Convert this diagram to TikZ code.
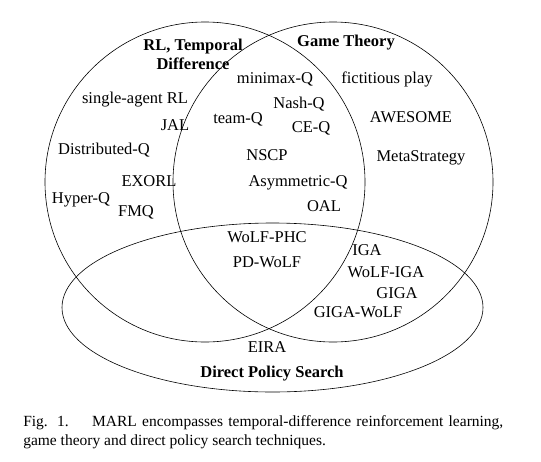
\documentclass[tikz,border=0pt]{standalone}
\usepackage{fontspec}
\setmainfont{Liberation Serif}
\usepackage{tikz}

\begin{document}
\begin{tikzpicture}[x=1pt, y=-1pt, line width=0.6pt,
  lbl/.style={inner sep=0pt, font=\fontsize{16.5}{19}\selectfont},
  hd/.style={inner sep=0pt, align=center, font=\fontsize{16.5}{19}\selectfont\bfseries}]
  \useasboundingbox (0,0) rectangle (541,461);

  % the three sets
  \draw (205,182) circle[radius=160pt];
  \draw (333,182) circle[radius=160pt];
  \draw (272.5,307.5) ellipse[x radius=210.5pt, y radius=84.5pt];

  % headings
  \node[hd] (rl) at (193,54) {RL, Temporal\\Difference};
  \node[hd] (gt) at (346,43) {Game Theory};
  \node[hd] (dps) at (272,374) {Direct Policy Search};

  % RL only
  \node[lbl] (sarl) at (135,100) {single-agent RL};
  \node[lbl] (jal) at (175,125) {JAL};
  \node[lbl] (dq) at (104,150) {Distributed-Q};
  \node[lbl] (exorl) at (149,181) {EXORL};
  \node[lbl] (hyq) at (81,200) {Hyper-Q};
  \node[lbl] (fmq) at (136,212) {FMQ};

  % RL and game theory
  \node[lbl] (mmq) at (275,79) {minimax-Q};
  \node[lbl] (nashq) at (299,104) {Nash-Q};
  \node[lbl] (teamq) at (238,119) {team-Q};
  \node[lbl] (ceq) at (311,128) {CE-Q};
  \node[lbl] (nscp) at (267,155) {NSCP};
  \node[lbl] (asq) at (298,183) {Asymmetric-Q};
  \node[lbl] (oal) at (324,206) {OAL};

  % game theory only
  \node[lbl] (fp) at (387,79) {fictitious play};
  \node[lbl] (awe) at (411,117) {AWESOME};
  \node[lbl] (meta) at (421,158) {MetaStrategy};

  % all three
  \node[lbl] (wphc) at (267,237) {WoLF-PHC};
  \node[lbl] (pdw) at (267,262) {PD-WoLF};

  % game theory and policy search
  \node[lbl] (iga) at (367,250) {IGA};
  \node[lbl] (wiga) at (386,272) {WoLF-IGA};
  \node[lbl] (giga) at (397,293) {GIGA};
  \node[lbl] (gigaw) at (358,312) {GIGA-WoLF};

  % policy search only
  \node[lbl] (eira) at (267,347) {EIRA};

  % caption
  \node[anchor=west, inner sep=0pt, font=\fontsize{15.5}{18}\selectfont] (cap1) at (23,423)
    {\makebox[480pt][s]{Fig. 1.\hspace{0.9em} MARL encompasses temporal-difference reinforcement learning,}};
  \node[anchor=west, inner sep=0pt, font=\fontsize{15.5}{18}\selectfont] (cap2) at (23,442)
    {game theory and direct policy search techniques.};
\end{tikzpicture}
\end{document}
